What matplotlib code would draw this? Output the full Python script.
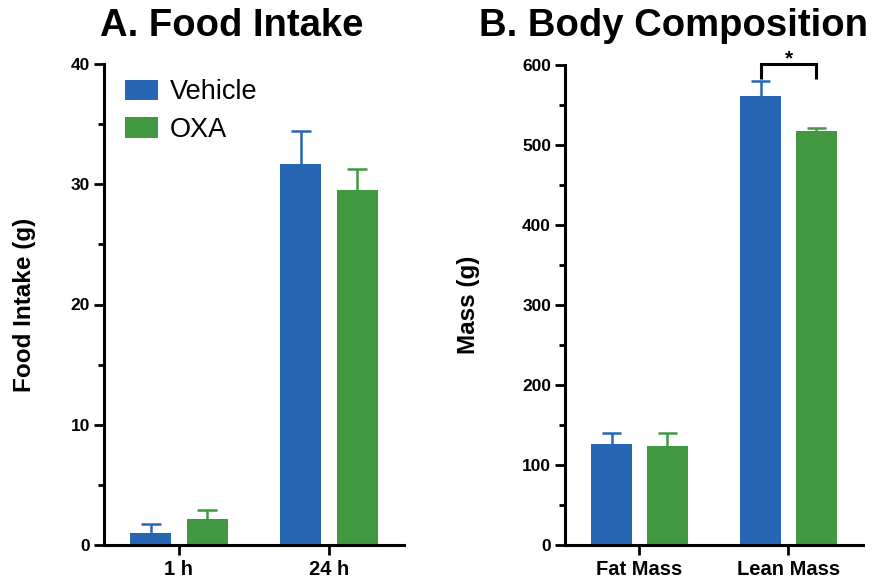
import matplotlib
matplotlib.use("Agg")
import matplotlib.pyplot as plt
from matplotlib.patches import Patch
from matplotlib.ticker import MultipleLocator
import numpy as np

plt.rcParams['font.family'] = ['Liberation Sans', 'DejaVu Sans']

# ---- data ----
groups_a = ["1 h", "24 h"]
vehicle_a = [0.97, 31.7]
vehicle_a_err = [0.78, 2.7]
oxa_a = [2.16, 29.5]
oxa_a_err = [0.74, 1.8]

groups_b = ["Fat Mass", "Lean Mass"]
vehicle_b = [126, 561]
vehicle_b_err = [14, 19]
oxa_b = [124, 517.5]
oxa_b_err = [16, 3.5]

series_names = ["Vehicle", "OXA"]
blue = "#2666B2"
green = "#429840"

W, H = 878, 581
fig = plt.figure(figsize=(W / 100, H / 100), dpi=100)

def px_axes(x0, x1, y_top, y_bot):
    return fig.add_axes([x0 / W, (H - y_bot) / H, (x1 - x0) / W, (y_bot - y_top) / H])

axA = px_axes(104, 404, 64, 545)
axB = px_axes(565, 863, 65, 545)

bw = 0.273
off = 0.187
cap = 0.065

def upper_err(ax, xs, vals, errs, color):
    xs = np.asarray(xs, float)
    vals = np.asarray(vals, float)
    tops = vals + np.asarray(errs, float)
    ax.vlines(xs, vals, tops, colors=color, lw=1.8, zorder=1)
    ax.hlines(tops, xs - cap, xs + cap, colors=color, lw=1.8, zorder=1)

def draw_panel(ax, groups, v, ve, o, oe, ymax, major, minor, ylabel, labx):
    x = np.arange(len(groups))
    ax.bar(x - off, v, width=bw, color=blue, zorder=2)
    ax.bar(x + off, o, width=bw, color=green, zorder=2)
    upper_err(ax, x - off, v, ve, blue)
    upper_err(ax, x + off, o, oe, green)
    ax.set_xlim(-0.5, 1.5)
    ax.set_ylim(0, ymax)
    ax.set_xticks(x)
    ax.set_xticklabels(groups, fontsize=14.5, fontweight='bold')
    ax.yaxis.set_major_locator(MultipleLocator(major))
    ax.yaxis.set_minor_locator(MultipleLocator(minor))
    for lab in ax.get_yticklabels():
        lab.set_fontsize(12.5)
        lab.set_fontweight('bold')
    for s in ['top', 'right']:
        ax.spines[s].set_visible(False)
    for s in ['left', 'bottom']:
        ax.spines[s].set_linewidth(2.2)
    ax.tick_params(axis='y', which='major', length=7, width=2, pad=3)
    ax.tick_params(axis='y', which='minor', length=4, width=2)
    ax.tick_params(axis='x', which='major', length=7, width=2, pad=4)
    ax.set_ylabel(ylabel, fontsize=17.5, fontweight='bold')
    ax.yaxis.set_label_coords(labx, 0.5)

draw_panel(axA, groups_a, vehicle_a, vehicle_a_err, oxa_a, oxa_a_err,
           40, 10, 5, "Food Intake (g)", -0.227)
draw_panel(axB, groups_b, vehicle_b, vehicle_b_err, oxa_b, oxa_b_err,
           600, 100, 50, "Mass (g)", -0.285)

# legend
handles = [Patch(facecolor=blue, edgecolor='none'), Patch(facecolor=green, edgecolor='none')]
axA.legend(handles, series_names, loc='upper left', bbox_to_anchor=(0.07, 0.968),
           frameon=False, fontsize=19.5, handlelength=1.2, handleheight=0.8,
           handletextpad=0.45, labelspacing=0.42, borderpad=0, borderaxespad=0)

# significance bracket
xl = 1 - off
xr = 1 + off
axB.plot([xl, xl, xr, xr], [582, 601, 601, 582], color='black', lw=2.2,
         clip_on=False, solid_capstyle='butt', solid_joinstyle='miter')
axB.text(1.0, 601, "*", ha='center', va='baseline', fontsize=15, fontweight='bold',
         clip_on=False)

# titles
fig.text(100 / W, (H - 36) / H, "A. Food Intake", fontsize=27.5, fontweight='bold',
         ha='left', va='baseline')
fig.text(479 / W, (H - 36) / H, "B. Body Composition", fontsize=27.5, fontweight='bold',
         ha='left', va='baseline')

fig.savefig("out.png", dpi=100)
